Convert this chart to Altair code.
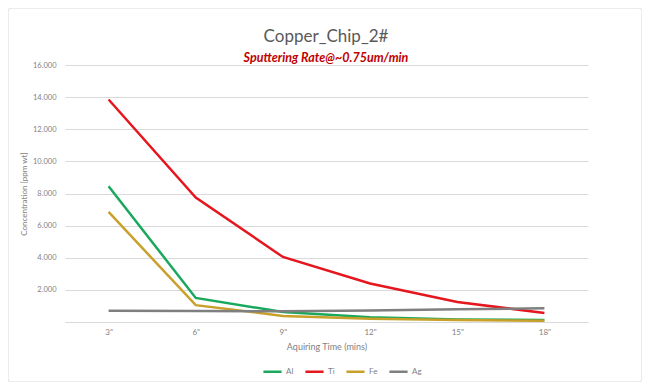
import altair as alt
import pandas as pd

chart_title = "Copper_Chip_2#"
chart_subtitle = "Sputtering Rate@~0.75um/min"
times = ['3"', '6"', '9"', '12"', '15"', '18"']
series_names = ["Al", "Ti", "Fe", "Ag"]
al = [8450, 1500, 620, 300, 160, 120]
ti = [13850, 7750, 4050, 2400, 1250, 560]
fe = [6850, 1050, 380, 200, 120, 80]
ag = [700, 690, 670, 720, 790, 860]
colors = ["#1aa85c", "#e5161e", "#c8a02a", "#7f7f7f"]
y_ticks = [0, 2000, 4000, 6000, 8000, 10000, 12000, 14000, 16000]

rows = []
for name, vals in zip(series_names, [al, ti, fe, ag]):
    for t, v in zip(times, vals):
        rows.append({"time": t, "element": name, "value": v})
df = pd.DataFrame(rows)

FONT = "Lato"

lines = alt.Chart(df).mark_line(strokeWidth=2.5).encode(
    x=alt.X("time:N", sort=times, title="Aquiring Time (mins)",
            scale=alt.Scale(paddingOuter=0.5),
            axis=alt.Axis(labelAngle=0, ticks=False, domain=True, domainColor="#d9d9d9",
                          labelFontSize=8, labelColor="#7f7f7f", labelPadding=6,
                          titleFontSize=9, titleColor="#7f7f7f", titleFontWeight="normal",
                          titlePadding=6, grid=False)),
    y=alt.Y("value:Q", title="Concentration [ppm wt]",
            scale=alt.Scale(domain=[0, 16000], nice=False),
            axis=alt.Axis(values=y_ticks, ticks=False, domain=False, gridColor="#d9d9d9",
                          labelExpr="datum.value == 0 ? '' : replace(format(datum.value, ',.0f'), ',', '.')",
                          labelFontSize=7.5, labelColor="#7f7f7f", labelPadding=9,
                          titleFontSize=8, titleColor="#7f7f7f", titleFontWeight="normal",
                          titlePadding=4)),
    color=alt.Color("element:N", sort=series_names,
                    scale=alt.Scale(domain=series_names, range=colors),
                    legend=alt.Legend(title=None, orient="none", direction="horizontal",
                                      legendX=197, legendY=296,
                                      symbolType="stroke", symbolStrokeWidth=2.5,
                                      symbolSize=330, labelFontSize=8, labelColor="#7f7f7f",
                                      columnPadding=6, labelOffset=3)),
)

one = pd.DataFrame({"a": [0]})

frame = alt.Chart(one).mark_rect(
    fill=None, stroke="#d9d9d9", strokeWidth=1, cornerRadius=3
).encode(x=alt.value(-57), x2=alt.value(577), y=alt.value(-57), y2=alt.value(317))

title_mark = alt.Chart(one).mark_text(
    text=chart_title, font=FONT, fontSize=17, color="#595959", align="center", baseline="middle"
).encode(x=alt.value(261), y=alt.value(-28))

subtitle_mark = alt.Chart(one).mark_text(
    text=chart_subtitle, font=FONT, fontSize=12.5, fontWeight="bold", fontStyle="italic",
    color="#c00000", align="center", baseline="middle"
).encode(x=alt.value(261), y=alt.value(-7))

chart = alt.layer(frame, title_mark, subtitle_mark, lines).properties(
    width=523, height=257,
    autosize=alt.AutoSizeParams(type="none"),
    padding={"left": 57, "top": 57, "right": 54, "bottom": 60},
).configure(font=FONT).configure_view(stroke=None)

chart.save("out.html", embed_options={"renderer": "svg", "actions": False})
